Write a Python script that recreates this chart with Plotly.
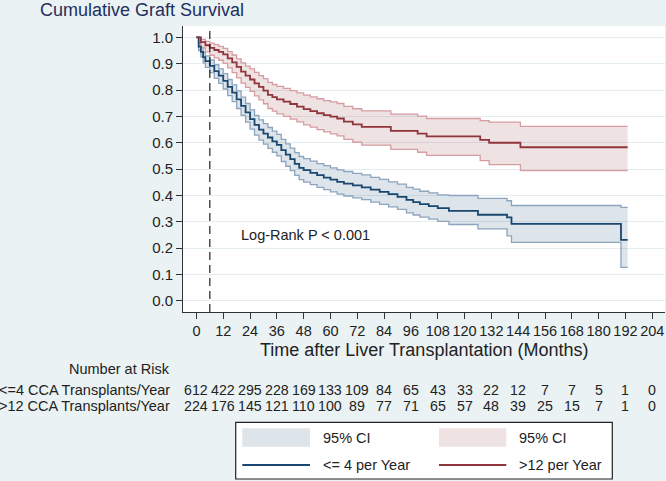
import plotly.graph_objects as go

# ---------------- data ----------------
# <= 4 CCA transplants / year
low_t = [0, 1, 2, 3, 4, 6, 8, 10, 12, 14, 16, 18, 20, 22, 24, 26, 28, 30, 32, 34, 36, 38, 40,
         42, 44, 46, 48, 51, 54, 57, 60, 63, 66, 70, 74, 78, 82, 86, 90, 94, 97, 100, 104,
         108, 113, 126, 139, 141, 190, 193]
low_s = [1.000, 0.965, 0.945, 0.925, 0.910, 0.892, 0.872, 0.855, 0.835, 0.812, 0.790, 0.765,
         0.740, 0.715, 0.690, 0.668, 0.650, 0.635, 0.620, 0.605, 0.592, 0.572, 0.555, 0.538,
         0.520, 0.505, 0.496, 0.486, 0.477, 0.468, 0.460, 0.452, 0.445, 0.438, 0.431, 0.422,
         0.414, 0.405, 0.395, 0.383, 0.375, 0.367, 0.360, 0.352, 0.342, 0.327, 0.317, 0.292,
         0.232, 0.232]
low_lo = [1.000, 0.950, 0.926, 0.903, 0.886, 0.866, 0.844, 0.825, 0.804, 0.779, 0.756, 0.730,
          0.704, 0.678, 0.652, 0.629, 0.610, 0.595, 0.579, 0.564, 0.550, 0.529, 0.511, 0.494,
          0.476, 0.460, 0.451, 0.441, 0.431, 0.422, 0.414, 0.405, 0.398, 0.391, 0.384, 0.375,
          0.366, 0.357, 0.347, 0.334, 0.326, 0.318, 0.310, 0.302, 0.290, 0.273, 0.247, 0.222,
          0.127, 0.127]
low_hi = [1.000, 0.978, 0.962, 0.944, 0.930, 0.914, 0.896, 0.880, 0.862, 0.840, 0.820, 0.797,
          0.773, 0.749, 0.725, 0.704, 0.687, 0.673, 0.658, 0.644, 0.632, 0.613, 0.596, 0.580,
          0.563, 0.548, 0.540, 0.530, 0.521, 0.513, 0.505, 0.497, 0.491, 0.484, 0.478, 0.469,
          0.461, 0.452, 0.443, 0.431, 0.424, 0.416, 0.410, 0.402, 0.400, 0.389, 0.380, 0.362,
          0.355, 0.355]

# > 12 CCA transplants / year
high_t = [0, 2, 4, 6, 8, 10, 12, 14, 16, 18, 20, 22, 24, 26, 28, 30, 32, 34, 36, 39, 42, 45,
          48, 51, 54, 57, 60, 63, 66, 70, 74, 87, 99, 103, 127, 131, 145, 193]
high_s = [1.000, 0.982, 0.970, 0.960, 0.952, 0.945, 0.935, 0.920, 0.905, 0.888, 0.870, 0.855,
          0.840, 0.825, 0.812, 0.798, 0.782, 0.773, 0.765, 0.756, 0.747, 0.737, 0.728, 0.720,
          0.712, 0.705, 0.699, 0.692, 0.680, 0.670, 0.660, 0.645, 0.635, 0.624, 0.611, 0.600,
          0.583, 0.583]
high_lo = [1.000, 0.960, 0.945, 0.932, 0.922, 0.913, 0.901, 0.884, 0.866, 0.846, 0.826, 0.810,
           0.795, 0.778, 0.763, 0.748, 0.730, 0.720, 0.710, 0.700, 0.690, 0.679, 0.668, 0.659,
           0.650, 0.641, 0.634, 0.626, 0.613, 0.602, 0.591, 0.575, 0.564, 0.552, 0.532, 0.517,
           0.494, 0.494]
high_hi = [1.000, 0.992, 0.985, 0.978, 0.972, 0.966, 0.958, 0.946, 0.933, 0.918, 0.903, 0.891,
           0.880, 0.867, 0.855, 0.843, 0.829, 0.821, 0.814, 0.806, 0.798, 0.789, 0.781, 0.774,
           0.767, 0.760, 0.755, 0.749, 0.738, 0.729, 0.721, 0.709, 0.701, 0.692, 0.684, 0.678,
           0.662, 0.662]

risk_times = [0, 12, 24, 36, 48, 60, 72, 84, 96, 108, 120, 132, 144, 156, 168, 180, 192, 204]
risk_low = [612, 422, 295, 228, 169, 133, 109, 84, 65, 43, 33, 22, 12, 7, 7, 5, 1, 0]
risk_high = [224, 176, 145, 121, 110, 100, 89, 77, 71, 65, 57, 48, 39, 25, 15, 7, 1, 0]
risk_labels = ["<=4 CCA Transplants/Year", ">12 CCA Transplants/Year"]

y_ticks = [0.0, 0.1, 0.2, 0.3, 0.4, 0.5, 0.6, 0.7, 0.8, 0.9, 1.0]
landmark_month = 6
pvalue_text = "Log-Rank P < 0.001"
x_title = "Time after Liver Transplantation (Months)"

# ---------------- style ----------------
W, H = 666, 481
ML, MR, MT, MB = 183, 1, 26, 169
PW, PH = W - ML - MR, H - MT - MB
FONT = "Liberation Sans, Arial, Helvetica, sans-serif"
BLUE = "#1A476F"
RED = "#90353B"
BLUE_CI_LINE = "rgb(140,164,190)"
RED_CI_LINE = "rgb(214,156,160)"
BLUE_FILL = "rgba(26,71,111,0.15)"
RED_FILL = "rgba(144,53,59,0.14)"
BG = "#EAF2F3"


def px(x):
    return (x - ML) / PW


def py(y):
    return (H - MB - y) / PH


fig = go.Figure()

# CI bands
for t, lo, hi, lc, fc in [(low_t, low_lo, low_hi, BLUE_CI_LINE, BLUE_FILL),
                          (high_t, high_lo, high_hi, RED_CI_LINE, RED_FILL)]:
    fig.add_trace(go.Scatter(x=t, y=lo, mode="lines", line=dict(color=lc, width=1.3, shape="hv"),
                             showlegend=False, hoverinfo="skip"))
    fig.add_trace(go.Scatter(x=t, y=hi, mode="lines", line=dict(color=lc, width=1.3, shape="hv"),
                             fill="tonexty", fillcolor=fc, showlegend=False, hoverinfo="skip"))

# survival curves
fig.add_trace(go.Scatter(x=low_t, y=low_s, mode="lines", name="<= 4 per Year",
                         line=dict(color=BLUE, width=1.8, shape="hv"), showlegend=False))
fig.add_trace(go.Scatter(x=high_t, y=high_s, mode="lines", name=">12 per Year",
                         line=dict(color=RED, width=1.8, shape="hv"), showlegend=False))

shapes = []
annotations = []

# landmark dashed line
shapes.append(dict(type="line", xref="x", yref="paper", x0=landmark_month, x1=landmark_month,
                   y0=0, y1=1, line=dict(color="#222", width=1.2, dash="8px,5px")))

annotations.append(dict(text=pvalue_text, x=19, y=0.25, xref="x", yref="y", xanchor="left",
                        yanchor="middle", showarrow=False,
                        font=dict(size=14.5, color="#222", family=FONT)))

# x-axis title
annotations.append(dict(text=x_title, x=0.5, y=py(350), xref="paper", yref="paper",
                        xanchor="center", yanchor="middle", showarrow=False,
                        font=dict(size=18, color="#222", family=FONT)))

# number at risk table
annotations.append(dict(text="Number at Risk", x=px(172), y=py(369), xref="paper", yref="paper",
                        xanchor="right", yanchor="middle", showarrow=False,
                        font=dict(size=14.5, color="#222", family=FONT)))
for row_y, label, vals in [(390, risk_labels[0], risk_low), (405.5, risk_labels[1], risk_high)]:
    annotations.append(dict(text=label, x=px(172), y=py(row_y), xref="paper", yref="paper",
                            xanchor="right", yanchor="middle", showarrow=False,
                            font=dict(size=14.5, color="#222", family=FONT)))
    for t, v in zip(risk_times, vals):
        annotations.append(dict(text=str(v), x=t, y=py(row_y), xref="x", yref="paper",
                                xanchor="center", yanchor="middle", showarrow=False,
                                font=dict(size=14.2, color="#222", family=FONT)))

# manual legend box
shapes.append(dict(type="rect", xref="paper", yref="paper", x0=px(235.7), x1=px(612.3),
                   y0=py(479), y1=py(422.3), line=dict(color="#222", width=1.2), fillcolor="white"))
legend_items = [
    (242.3, 310, 437.5, "fill", BLUE_FILL, "95% CI"),
    (439, 506.3, 437.5, "fill", RED_FILL, "95% CI"),
    (242.3, 310, 465, "line", BLUE, "<= 4 per Year"),
    (439, 506.3, 465, "line", RED, ">12 per Year"),
]
for x0, x1, yc, kind, col, txt in legend_items:
    if kind == "fill":
        shapes.append(dict(type="rect", xref="paper", yref="paper", x0=px(x0), x1=px(x1),
                           y0=py(yc + 9.3), y1=py(yc - 9.3), line=dict(width=0), fillcolor=col))
    else:
        shapes.append(dict(type="line", xref="paper", yref="paper", x0=px(x0), x1=px(x1),
                           y0=py(yc), y1=py(yc), line=dict(color=col, width=1.8)))
    annotations.append(dict(text=txt, x=px(x1 + 11), y=py(yc), xref="paper", yref="paper",
                            xanchor="left", yanchor="middle", showarrow=False,
                            font=dict(size=14.5, color="#222", family=FONT)))

fig.update_layout(
    width=W, height=H,
    margin=dict(l=ML, r=MR, t=MT, b=MB),
    paper_bgcolor=BG, plot_bgcolor="white",
    font=dict(family=FONT, color="#222"),
    title=dict(text="Cumulative Graft Survival", x=40 / W, xanchor="left", xref="container",
               y=1 - 10 / H, yanchor="middle", yref="container",
               font=dict(size=18, color="#1E2F5E", family=FONT)),
    shapes=shapes, annotations=annotations, showlegend=False,
    xaxis=dict(range=[-6, 209.7], tickvals=risk_times, ticks="outside", ticklen=6, tickangle=0,
               tickcolor="#333", tickwidth=1, showline=True, linecolor="#333", linewidth=1,
               showgrid=False, zeroline=False, tickfont=dict(size=14.5, color="#222")),
    yaxis=dict(range=[-0.042, 1.043], tickvals=y_ticks, tickformat=".1f", ticks="outside",
               ticklen=6, tickcolor="#333", tickwidth=1, showline=True, linecolor="#333",
               linewidth=1, showgrid=True, gridcolor="#E4EDF0", gridwidth=1.2, zeroline=False,
               tickfont=dict(size=15, color="#222")),
)

fig.write_html(
    "out.html",
    config={"displayModeBar": False},
    post_script="document.body.style.margin='0';document.body.style.overflow='hidden';"
                "document.body.style.background='" + BG + "';",
)
